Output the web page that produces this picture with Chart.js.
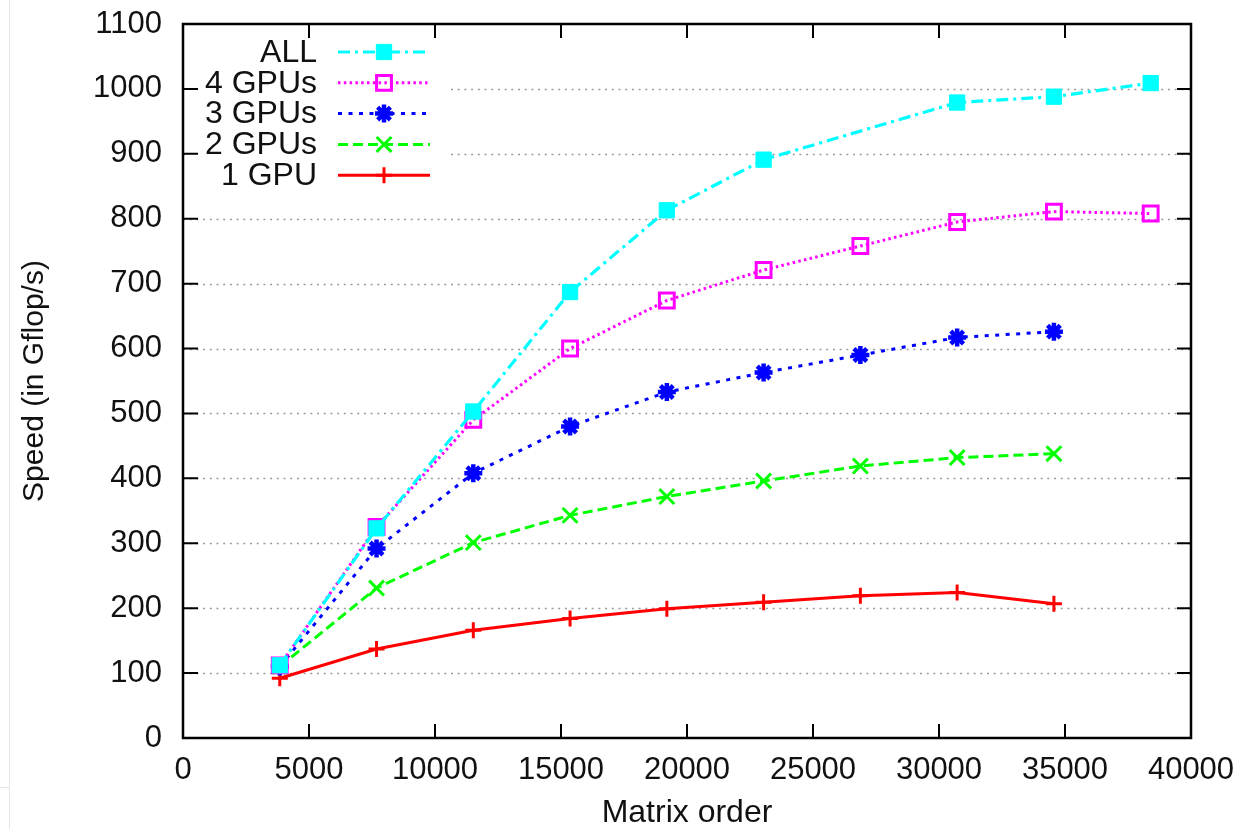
<!DOCTYPE html>
<html>
<head>
<meta charset="utf-8">
<script src="https://cdn.jsdelivr.net/npm/chart.js@4/dist/chart.umd.min.js"></script>
<style>
  html, body { margin: 0; padding: 0; background: #fff; }
  #wrap { position: relative; width: 1244px; height: 829px; }
  #edgeV { position: absolute; left: 9px; top: 0; width: 1px; height: 829px; background: #e6e6e6; }
  #edgeH { position: absolute; left: 0; top: 787px; width: 9px; height: 1px; background: #e6e6e6; }
</style>
</head>
<body>
<div id="wrap">
  <canvas id="chart" width="1244" height="829"></canvas>
  <div id="edgeV"></div><div id="edgeH"></div>
</div>
<script>
const FONT = "'Liberation Sans', Arial, Helvetica, sans-serif";

// matrix order (x) and speed in Gflop/s (y)
const matrixOrder = [3840, 7680, 11520, 15360, 19200, 23040, 26880, 30720, 34560, 38400];
const speedAll  = [112, 323, 503, 687, 813, 891, null, 979, 988, 1009];
const speed4gpu = [112, 325, 490, 600, 674, 721, 758, 795, 811, 808];
const speed3gpu = [110, 292, 408, 480, 533, 563, 590, 617, 626];
const speed2gpu = [110, 231, 301, 343, 372, 396, 419, 432, 438];
const speed1gpu = [92, 137, 166, 184, 199, 209, 219, 224, 207];

const xTicks = [0, 5000, 10000, 15000, 20000, 25000, 30000, 35000, 40000];
const yTicks = [0, 100, 200, 300, 400, 500, 600, 700, 800, 900, 1000, 1100];

function pts(ys) {
  return ys.map((y, i) => ({ x: matrixOrder[i], y }));
}

const datasets = [
  { label: "ALL", data: pts(speedAll), spanGaps: true,
    borderColor: "#00ffff", backgroundColor: "#00ffff", borderWidth: 3.2, borderDash: [12, 5, 3, 5],
    pointStyle: "rect", pointRadius: 10.8, pointBorderWidth: 1, pointBackgroundColor: "#00ffff" },
  { label: "4 GPUs", data: pts(speed4gpu),
    borderColor: "#ff00ff", backgroundColor: "#ff00ff", borderWidth: 3, borderDash: [2.5, 3.3],
    pointStyle: "rect", pointRadius: 10.5, pointBorderWidth: 3, pointBackgroundColor: "rgba(0,0,0,0)" },
  { label: "3 GPUs", data: pts(speed3gpu),
    borderColor: "#0000ff", backgroundColor: "#0000ff", borderWidth: 3, borderDash: [4, 6.5],
    pointStyle: "star", pointRadius: 9, pointBorderWidth: 4.5, pointBackgroundColor: "#0000ff" },
  { label: "2 GPUs", data: pts(speed2gpu),
    borderColor: "#00ff00", backgroundColor: "#00ff00", borderWidth: 3, borderDash: [10, 5],
    pointStyle: "crossRot", pointRadius: 10.5, pointBorderWidth: 3, pointBackgroundColor: "#00ff00" },
  { label: "1 GPU", data: pts(speed1gpu),
    borderColor: "#ff0000", backgroundColor: "#ff0000", borderWidth: 3, borderDash: [],
    pointStyle: "cross", pointRadius: 8, pointBorderWidth: 3, pointBackgroundColor: "#ff0000" },
];

function drawMarker(ctx, ds, x, y) {
  const r = ds.pointRadius;
  ctx.save();
  ctx.setLineDash([]);
  ctx.strokeStyle = ds.borderColor;
  ctx.fillStyle = ds.pointBackgroundColor;
  ctx.lineWidth = ds.pointBorderWidth;
  ctx.beginPath();
  if (ds.pointStyle === "rect") {
    const s = r * Math.SQRT1_2;
    ctx.rect(x - s, y - s, 2 * s, 2 * s);
    ctx.fill();
  } else {
    const d = r * Math.SQRT1_2;
    if (ds.pointStyle === "cross" || ds.pointStyle === "star") {
      ctx.moveTo(x - r, y); ctx.lineTo(x + r, y);
      ctx.moveTo(x, y - r); ctx.lineTo(x, y + r);
    }
    if (ds.pointStyle === "crossRot" || ds.pointStyle === "star") {
      ctx.moveTo(x - d, y - d); ctx.lineTo(x + d, y + d);
      ctx.moveTo(x - d, y + d); ctx.lineTo(x + d, y - d);
    }
  }
  ctx.stroke();
  ctx.restore();
}

const gnuplotFrame = {
  id: "gnuplotFrame",
  beforeDatasetsDraw(chart) {
    const { ctx, chartArea: a, scales } = chart;
    ctx.save();
    // dotted horizontal grid
    ctx.strokeStyle = "#9a9a9a";
    ctx.lineWidth = 1.4;
    ctx.setLineDash([2, 4.7]);
    yTicks.forEach(v => {
      if (v === yTicks[0] || v === yTicks[yTicks.length - 1]) return;
      const y = Math.round(scales.y.getPixelForValue(v)) + 0.5;
      ctx.beginPath(); ctx.moveTo(a.left, y); ctx.lineTo(a.right, y); ctx.stroke();
    });
    // opaque key box
    ctx.setLineDash([]);
    ctx.fillStyle = "#fff";
    ctx.fillRect(a.left + 2, 36, 447 - a.left, 156);
    ctx.restore();
  },
  afterDatasetsDraw(chart) {
    const { ctx, chartArea: a, scales } = chart;
    ctx.save();
    ctx.setLineDash([]);
    ctx.strokeStyle = "#000";
    ctx.lineWidth = 2;
    const tl = 14;
    yTicks.forEach(v => {
      const y = scales.y.getPixelForValue(v);
      ctx.beginPath();
      ctx.moveTo(a.left, y); ctx.lineTo(a.left + tl + 1, y);
      ctx.moveTo(a.right, y); ctx.lineTo(a.right - tl, y);
      ctx.stroke();
    });
    xTicks.forEach(v => {
      const x = scales.x.getPixelForValue(v);
      ctx.beginPath();
      ctx.moveTo(x, a.bottom); ctx.lineTo(x, a.bottom - tl);
      ctx.moveTo(x, a.top); ctx.lineTo(x, a.top + tl);
      ctx.stroke();
    });
    ctx.lineWidth = 2.5;
    ctx.strokeRect(a.left, a.top, a.right - a.left, a.bottom - a.top);

    // key
    ctx.font = "32px " + FONT;
    ctx.textAlign = "right";
    ctx.textBaseline = "middle";
    chart.data.datasets.forEach((ds, i) => {
      const y = 52 + i * 30.8;
      ctx.fillStyle = "#111";
      ctx.fillText(ds.label, 317, y + 1);
      ctx.save();
      ctx.strokeStyle = ds.borderColor;
      ctx.lineWidth = ds.borderWidth;
      ctx.setLineDash(ds.borderDash);
      ctx.beginPath(); ctx.moveTo(338, y); ctx.lineTo(430, y); ctx.stroke();
      ctx.restore();
      drawMarker(ctx, ds, 384, y);
    });
    ctx.restore();
  }
};

new Chart(document.getElementById("chart"), {
  type: "line",
  data: { datasets },
  plugins: [gnuplotFrame],
  options: {
    responsive: false,
    animation: false,
    events: [],
    layout: { padding: { top: 24, right: 53, left: 0, bottom: 0 } },
    elements: { line: { tension: 0 } },
    plugins: { legend: { display: false }, tooltip: { enabled: false } },
    scales: {
      x: {
        type: "linear", min: 0, max: 40000,
        afterBuildTicks: s => { s.ticks = xTicks.map(v => ({ value: v })); },
        afterFit: s => { s.height = 91; s.paddingLeft = 0; s.paddingRight = 0; },
        grid: { display: false, drawTicks: false },
        border: { display: false },
        ticks: { color: "#111", font: { family: FONT, size: 31 }, padding: 14, maxRotation: 0, autoSkip: false,
                 callback: v => String(v) },
        title: { display: true, text: "Matrix order", color: "#111",
                 font: { family: FONT, size: 32, lineHeight: 1.0 }, padding: { top: 0, bottom: 0 } },
      },
      y: {
        type: "linear", min: 0, max: 1100,
        afterBuildTicks: s => { s.ticks = yTicks.map(v => ({ value: v })); },
        afterFit: s => { s.width = 183; s.paddingTop = 0; s.paddingBottom = 0; },
        grid: { display: false, drawTicks: false },
        border: { display: false },
        ticks: { color: "#111", font: { family: FONT, size: 31 }, padding: 21, autoSkip: false,
                 callback: v => String(v) },
        title: { display: true, text: "Speed (in Gflop/s)", color: "#111",
                 font: { family: FONT, size: 30, lineHeight: 1.2 }, padding: { top: 17, bottom: 0 } },
      },
    },
  },
});
</script>
</body>
</html>
